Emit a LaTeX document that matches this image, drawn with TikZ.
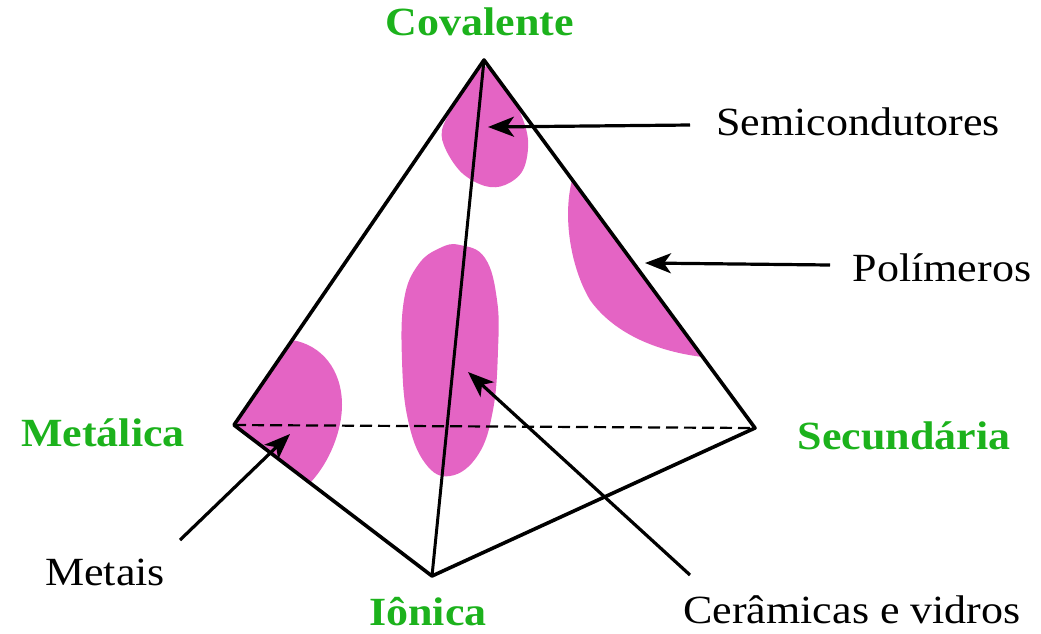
\documentclass[tikz,border=0pt]{standalone}
\usepackage{fontspec}
\setmainfont{Liberation Serif}[FakeStretch=1.1]
\usetikzlibrary{arrows.meta}
\definecolor{vgreen}{RGB}{28,178,28}
\definecolor{blob}{RGB}{228,100,196}
\begin{document}
\begin{tikzpicture}[x=1pt,y=-1pt,
  edge/.style={line width=3.6pt,line join=round,line cap=round},
  bondlabel/.style={text=vgreen,font=\fontsize{40}{44}\selectfont\bfseries,inner sep=0pt},
  matlabel/.style={text=black,font=\fontsize{40}{44}\selectfont,inner sep=0pt},
  pointer/.style={line width=3.2pt,-{Stealth[length=26pt,width=20pt,inset=7pt]}}]
\useasboundingbox (0,0) rectangle (1041,633);
% vertices
\coordinate (C) at (484,60);
\coordinate (M) at (234,425);
\coordinate (S) at (755,428);
\coordinate (I) at (432,576);
% blobs
\fill[blob] plot[smooth cycle,tension=0.6] coordinates {(484,66) (503,85) (519,110) (528,140) (523,170) (505,185) (485,186) (462,173) (446,150) (442,130) (454,106) (470,82)};
\fill[blob] (572,180) -- (703,357) .. controls (660,352) and (615,335) .. (590,300) .. controls (572,270) and (562,220) .. (572,180) -- cycle;
\fill[blob] plot[smooth cycle,tension=0.7] coordinates {(460,245) (485,258) (497,300) (498,350) (493,410) (478,455) (450,476) (425,463) (408,420) (402,360) (404,300) (418,265) (440,248)};
\fill[blob] (292,340) -- (234,425) -- (310,483) .. controls (330,462) and (342,430) .. (342,405) .. controls (342,370) and (322,345) .. (292,340) -- cycle;
% tetrahedron
\draw[line width=2.2pt,dash pattern=on 12pt off 6pt] (M) -- (S);
\draw[edge] (C) -- (M) -- (I) -- (S) -- cycle;
\draw[line width=3pt] (C) -- (I);
% labels
\node[bondlabel] (lc) at (480,22) {Covalente};
\node[bondlabel] (lm) at (103,433) {Metálica};
\node[bondlabel] (ls) at (904,436) {Secundária};
\node[bondlabel] (li) at (428,612) {Iônica};
\node[matlabel] (lsem) at (858,122) {Semicondutores};
\node[matlabel] (lpol) at (942,268) {Polímeros};
\node[matlabel] (lmet) at (105,572) {Metais};
\node[matlabel] (lcer) at (852,610) {Cerâmicas e vidros};
% arrows
\coordinate (asem0) at (690,125);
\coordinate (asem1) at (488,127);
\coordinate (apol0) at (830,265);
\coordinate (apol1) at (645,263);
\coordinate (amet0) at (180,540);
\coordinate (amet1) at (290,434);
\coordinate (acer0) at (690,575);
\coordinate (acer1) at (468,372);
\draw[pointer] (asem0) -- (asem1);
\draw[pointer] (apol0) -- (apol1);
\draw[pointer] (amet0) -- (amet1);
\draw[pointer] (acer0) -- (acer1);
\end{tikzpicture}
\end{document}
